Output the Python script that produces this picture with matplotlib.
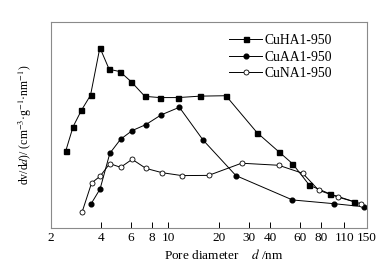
import numpy as np
import matplotlib
matplotlib.use("Agg")
import matplotlib.pyplot as plt
from matplotlib.ticker import FixedLocator, FixedFormatter, NullLocator

plt.rcParams['font.family'] = ['Liberation Serif', 'DejaVu Serif']
plt.rcParams['mathtext.fontset'] = 'stix'

tick_vals = [2, 4, 6, 8, 10, 20, 30, 40, 60, 80, 110, 150]
tick_labels = ['2', '4', '6', '8', '10', '20', '30', '40', '60', '80', '110', '150']

ha_d = [2.46, 2.72, 3.05, 3.45, 3.92, 4.45, 5.15, 6.01, 7.24, 8.88, 11.4, 15.4, 21.9, 33.5, 45.0, 54.3, 68.5, 90.7, 126.5]
ha_v = [37.3, 49.1, 57.1, 64.3, 87.4, 76.9, 75.8, 70.9, 63.8, 63.2, 63.2, 63.9, 64.1, 46.2, 37.0, 31.2, 20.7, 16.5, 12.7]

aa_d = [3.47, 3.93, 4.49, 5.20, 6.09, 7.34, 9.04, 11.6, 16.0, 25.1, 54.3, 95.4, 144.2]
aa_v = [11.6, 18.9, 36.2, 43.0, 47.2, 50.1, 54.8, 58.5, 42.7, 25.4, 13.6, 11.8, 10.3]

na_d = [3.08, 3.50, 3.93, 4.49, 5.20, 6.09, 7.34, 9.17, 12.0, 17.3, 27.1, 45.0, 62.5, 77.7, 101, 137.9]
na_v = [7.9, 21.8, 25.1, 31.2, 29.4, 33.3, 28.9, 26.8, 25.4, 25.5, 31.4, 30.4, 26.5, 18.3, 15.0, 11.8]

fig = plt.figure(figsize=(3.92, 2.67), dpi=100)
ax = fig.add_axes([0.129, 0.146, 0.807, 0.773])
ax.set_xscale('log')

lw = 0.7
ax.plot(ha_d, ha_v, '-s', color='black', lw=lw, ms=3.6, mfc='black', mec='black', label='CuHA1-950')
ax.plot(aa_d, aa_v, '-o', color='black', lw=lw, ms=3.4, mfc='black', mec='black', label='CuAA1-950')
ax.plot(na_d, na_v, '-o', color='black', lw=lw, ms=3.6, mfc='white', mec='black', mew=0.6, label='CuNA1-950')

ax.set_xlim(2, 150)
ax.set_ylim(0, 100)
ax.xaxis.set_major_locator(FixedLocator(tick_vals))
ax.xaxis.set_major_formatter(FixedFormatter(tick_labels))
ax.xaxis.set_minor_locator(NullLocator())
ax.set_yticks([])
ax.tick_params(axis='x', direction='in', length=4, width=0.7, labelsize=9.5, pad=3, color='black')
for s in ax.spines.values():
    s.set_color('#8a8a8a')
    s.set_linewidth(0.8)

ax.set_xlabel('Pore diameter    $d$ /nm', fontsize=9.5, labelpad=3, x=0.548)
ax.set_ylabel('dv/d$d$)/ (cm$^{-3}$·g$^{-1}$·nm$^{-1}$)', fontsize=8.5, labelpad=12)

leg = ax.legend(loc='upper right', frameon=False, fontsize=9.8, handlelength=2.4,
                handletextpad=0.2, labelspacing=0.25, bbox_to_anchor=(0.92, 0.985),
                borderaxespad=0.3, markerfirst=True)

fig.savefig('out.png', dpi=100)
